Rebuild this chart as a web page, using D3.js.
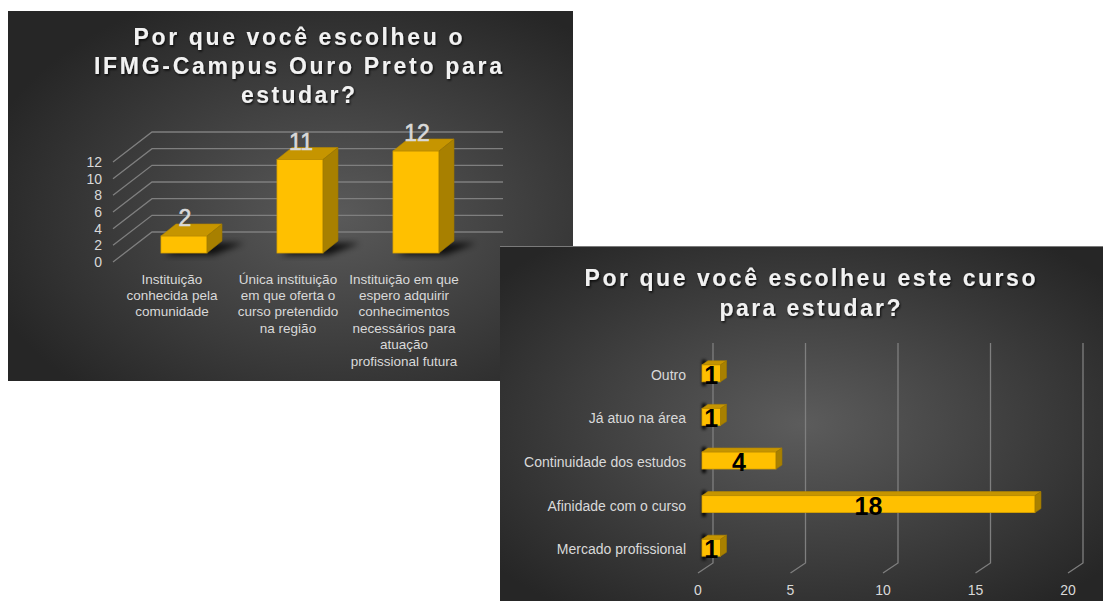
<!DOCTYPE html>
<html><head><meta charset="utf-8">
<script src="https://cdn.jsdelivr.net/npm/d3@7"></script>
<style>
html,body{margin:0;padding:0;background:#fff;}
svg{display:block;}
text{font-family:"Liberation Sans",Arial,sans-serif;}
</style></head>
<body>
<script>
// ---------- Data ----------
const title1 = ["Por que você escolheu o", "IFMG-Campus  Ouro Preto para", "estudar?"];
const categories1 = [
  ["Instituição", "conhecida pela", "comunidade"],
  ["Única instituição", "em que oferta o", "curso pretendido", "na região"],
  ["Instituição em que", "espero adquirir", "conhecimentos", "necessários para", "atuação", "profissional futura"]
];
const values1 = [2, 11, 12];
const ticks1 = [0, 2, 4, 6, 8, 10, 12];

const title2 = ["Por que você escolheu este curso", "para estudar?"];
const categories2 = ["Outro", "Já atuo na área", "Continuidade dos estudos", "Afinidade com o curso", "Mercado profissional"];
const values2 = [1, 1, 4, 18, 1];
const ticks2 = [0, 5, 10, 15, 20];

// ---------- Setup ----------
const W = 1103, H = 601;
const svg = d3.select("body").append("svg").attr("width", W).attr("height", H);
const defs = svg.append("defs");

function radial(id, cx, cy, r, inner, outer) {
  const g = defs.append("radialGradient").attr("id", id)
    .attr("cx", cx).attr("cy", cy).attr("r", r);
  g.append("stop").attr("offset", "0%").attr("stop-color", inner);
  g.append("stop").attr("offset", "100%").attr("stop-color", outer);
}
radial("bg1", "58%", "55%", "65%", "#5a5a5a", "#262626");
radial("bg2", "50%", "50%", "65%", "#5c5c5c", "#262626");

const ts = defs.append("filter").attr("id", "tshadow").attr("x", "-10%").attr("y", "-30%").attr("width", "120%").attr("height", "160%");
ts.append("feDropShadow").attr("dx", 1).attr("dy", 1.5).attr("stdDeviation", 1).attr("flood-color", "#000").attr("flood-opacity", 0.8);
const blur = defs.append("filter").attr("id", "blur").attr("x", "-50%").attr("y", "-50%").attr("width", "200%").attr("height", "200%");
blur.append("feGaussianBlur").attr("stdDeviation", 3);
const blur2 = defs.append("filter").attr("id", "blur2").attr("x", "-100%").attr("y", "-50%").attr("width", "300%").attr("height", "200%");
blur2.append("feGaussianBlur").attr("stdDeviation", 1.5);

const FRONT = "#FFC000", TOP = "#C69500", SIDE = "#A88000", EDGE = "#D9A300";
const TXT = "#d9d9d9", GRID = "#7f7f7f";

// ================= Panel 1 =================
const p1 = svg.append("g");
p1.append("rect").attr("x", 8).attr("y", 11).attr("width", 565).attr("height", 370).attr("fill", "url(#bg1)");

const t1 = p1.append("g").attr("filter", "url(#tshadow)");
const t1w = [329, 408, 114];
title1.forEach((s, i) => {
  t1.append("text").attr("x", 298).attr("y", 37 + i * 29)
    .attr("text-anchor", "middle").attr("dominant-baseline", "central")
    .attr("font-size", 23).attr("font-weight", "bold").attr("fill", "#f2f2f2")
    .attr("textLength", t1w[i]).attr("lengthAdjust", "spacing")
    .text(s);
});

// wall scale (front edge) and bar scale
const yWall = d3.scaleLinear().domain([0, 12]).range([262, 162]);
const yBar = d3.scaleLinear().domain([0, 12]).range([253, 151]);
const depthX = 39, depthY = 30;
const wallLeft = 113, wallRight = 503;

ticks1.forEach(t => {
  const yf = yWall(t);
  p1.append("path")
    .attr("d", `M${wallLeft},${yf}L${wallLeft + depthX},${yf - depthY}L${wallRight},${yf - depthY}`)
    .attr("fill", "none").attr("stroke", GRID).attr("stroke-width", 1.3);
  p1.append("text").attr("x", 102).attr("y", yf)
    .attr("text-anchor", "end").attr("dominant-baseline", "central")
    .attr("font-size", 14).attr("fill", TXT).text(t);
});

const xBand1 = d3.scalePoint().domain(d3.range(values1.length)).range([126, 474]).padding(0.5);
const bw1 = 46, bdx = 15, bdy = 12;
values1.forEach((v, i) => {
  const cx = xBand1(i), x0 = cx - bw1 / 2, x1 = cx + bw1 / 2;
  const base = yBar(0), top = yBar(v);
  // shadow
  p1.append("path")
    .attr("d", `M${x0 + 4},${base + 2}L${x1 + 6},${base + 2}L${x1 + bdx + 22},${base - bdy + 2}L${x0 + bdx + 8},${base - bdy + 2}Z`)
    .attr("fill", "#000").attr("opacity", 0.8).attr("filter", "url(#blur)");
  p1.append("rect").attr("x", x0).attr("y", top).attr("width", bw1).attr("height", base - top)
    .attr("fill", FRONT).attr("stroke", EDGE).attr("stroke-width", 0.8);
  p1.append("path")
    .attr("d", `M${x0},${top}L${x0 + bdx},${top - bdy}L${x1 + bdx},${top - bdy}L${x1},${top}Z`)
    .attr("fill", TOP).attr("stroke", "#B58800").attr("stroke-width", 0.6);
  p1.append("path")
    .attr("d", `M${x1},${top}L${x1 + bdx},${top - bdy}L${x1 + bdx},${base - bdy}L${x1},${base}Z`)
    .attr("fill", SIDE).attr("stroke", "#9a7600").attr("stroke-width", 0.6);
  p1.append("text").attr("x", cx + 1).attr("y", top - 18)
    .attr("text-anchor", "middle").attr("dominant-baseline", "central")
    .attr("font-size", 23).attr("fill", TXT).attr("stroke", TXT).attr("stroke-width", 0.6)
    .text(v);
  categories1[i].forEach((line, j) => {
    p1.append("text").attr("x", cx - 12).attr("y", 279 + j * 16.4)
      .attr("text-anchor", "middle").attr("dominant-baseline", "central")
      .attr("font-size", 13.5).attr("fill", TXT).text(line);
  });
});

// ================= Panel 2 =================
const p2 = svg.append("g");
p2.append("rect").attr("x", 500).attr("y", 246).attr("width", 603).attr("height", 355).attr("fill", "#7a7a7a");
p2.append("rect").attr("x", 500).attr("y", 247).attr("width", 603).attr("height", 354).attr("fill", "url(#bg2)");

const t2 = p2.append("g").attr("filter", "url(#tshadow)");
const t2w = [451, 181];
title2.forEach((s, i) => {
  t2.append("text").attr("x", 810).attr("y", 278 + i * 30)
    .attr("text-anchor", "middle").attr("dominant-baseline", "central")
    .attr("font-size", 23).attr("font-weight", "bold").attr("fill", "#f2f2f2")
    .attr("textLength", t2w[i]).attr("lengthAdjust", "spacing")
    .text(s);
});

const x2 = d3.scaleLinear().domain([0, 20]).range([698, 1068]);
const dX2 = 15, dY2 = 10, gTop = 343, gBot = 563;
ticks2.forEach(t => {
  const xf = x2(t);
  p2.append("path")
    .attr("d", `M${xf + dX2},${gTop}L${xf + dX2},${gBot}L${xf},${gBot + dY2}`)
    .attr("fill", "none").attr("stroke", GRID).attr("stroke-width", 1.3);
  p2.append("text").attr("x", xf).attr("y", 590)
    .attr("text-anchor", "middle").attr("dominant-baseline", "central")
    .attr("font-size", 14).attr("fill", TXT).text(t);
});

const y2 = d3.scaleBand().domain(categories2).range([351, 569]);
const bh2 = 17, hdx = 6, hdy = 4;
categories2.forEach((c, i) => {
  const v = values2[i];
  const cy = y2(c) + y2.bandwidth() / 2;
  const x0 = x2(0) + 4, x1 = x2(v) + 4;
  const yt = cy - bh2 / 2 + 0.5, yb = yt + bh2;
  // wall shadow
  p2.append("rect").attr("x", 702).attr("y", cy - 13).attr("width", 4).attr("height", 26)
    .attr("fill", "#000").attr("opacity", 0.9).attr("filter", "url(#blur2)");
  p2.append("rect").attr("x", x0).attr("y", yt).attr("width", x1 - x0).attr("height", bh2)
    .attr("fill", FRONT).attr("stroke", EDGE).attr("stroke-width", 0.8);
  p2.append("path")
    .attr("d", `M${x0},${yt}L${x0 + hdx},${yt - hdy}L${x1 + hdx},${yt - hdy}L${x1},${yt}Z`)
    .attr("fill", TOP).attr("stroke", "#B58800").attr("stroke-width", 0.6);
  p2.append("path")
    .attr("d", `M${x1},${yt}L${x1 + hdx},${yt - hdy}L${x1 + hdx},${yb - hdy}L${x1},${yb}Z`)
    .attr("fill", SIDE).attr("stroke", "#9a7600").attr("stroke-width", 0.6);
  p2.append("text").attr("x", (x0 + x1) / 2).attr("y", cy + 2)
    .attr("text-anchor", "middle").attr("dominant-baseline", "central")
    .attr("font-family", "'Liberation Sans Narrow','Liberation Sans',Arial,sans-serif")
    .attr("font-size", 25).attr("font-weight", "bold").attr("fill", "#000").text(v);
  p2.append("text").attr("x", 686).attr("y", cy + 2)
    .attr("text-anchor", "end").attr("dominant-baseline", "central")
    .attr("font-size", 14).attr("fill", TXT).text(c);
});
</script>
</body></html>
